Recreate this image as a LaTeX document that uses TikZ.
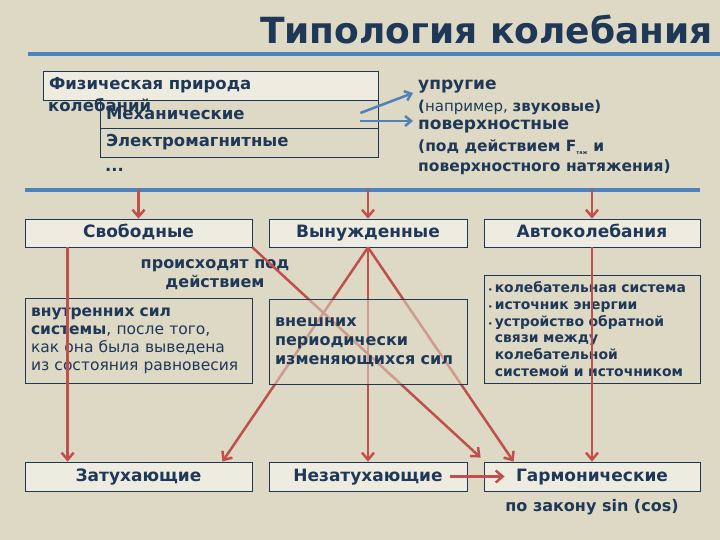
\documentclass[tikz,border=0pt]{standalone}
\usepackage{fontspec}
\setmainfont{DejaVu Sans}
\usetikzlibrary{arrows.meta,positioning}

\definecolor{bgbeige}{RGB}{221,217,196}
\definecolor{boxfill}{RGB}{238,236,225}
\definecolor{navy}{RGB}{31,56,88}
\definecolor{redline}{RGB}{192,80,77}
\definecolor{blueline}{RGB}{79,129,189}

\begin{document}
\begin{tikzpicture}[x=1pt,y=-1pt,
  every node/.style={text=navy,font=\bfseries},
  box/.style={draw=navy,fill=boxfill,line width=0.8pt,inner sep=0pt,
    text height=12.5pt,text depth=3.5pt,
    font=\fontsize{17}{20}\selectfont\bfseries},
  plainbox/.style={draw=navy,line width=0.8pt,inner sep=6pt},
  txt/.style={inner sep=0pt,anchor=west},
  redarrow/.style={draw=redline,line width=2.5pt,
    -{Straight Barb[length=7pt,width=12pt]}},
  bluearrow/.style={draw=blueline,line width=2.5pt,
    -{Straight Barb[length=6pt,width=10pt]}}]

% Background
\fill[bgbeige] (0,0) rectangle (720,540);
\useasboundingbox (0,0) rectangle (720,540);

% Title
\node[anchor=east,inner sep=0pt,font=\fontsize{36}{40}\selectfont\bfseries] (title) at (713,29) {Типология колебания};
\draw[blueline,line width=4pt] (28,54) -- (720,54);

% Physical nature
\node[plainbox,minimum width=278pt,minimum height=28pt,text width=266pt,align=left,
  font=\fontsize{16.5}{18}\selectfont\bfseries] (mech) at (239,114) {Механические};
\node[plainbox,minimum width=278pt,minimum height=29pt,text width=266pt,align=left,
  font=\fontsize{16.5}{18}\selectfont\bfseries] (emag) at (239,142.5) {Электромагнитные};
\node[plainbox,fill=boxfill,minimum width=335pt,minimum height=29pt,text width=323pt,align=left,
  font=\fontsize{16.5}{18}\selectfont\bfseries] (phys) at (210.5,85.5) {Физическая природа};
\node[txt,font=\fontsize{16.5}{18}\selectfont\bfseries] (physrest) at (48,105) {колебаний};
\node[txt,font=\fontsize{16.5}{18}\selectfont\bfseries] (dots) at (105,170) {...};

% Mechanical kinds
\node[txt,font=\fontsize{17}{20}\selectfont\bfseries] (elastic) at (418,87) {упругие};
\node[txt,font=\fontsize{15}{18}\selectfont] (elasticnote) at (418,107) {\textbf{(}например, \textbf{звуковые)}};
\node[txt,font=\fontsize{17}{20}\selectfont\bfseries] (surface) at (418,127) {поверхностные};
\node[txt,font=\fontsize{15.5}{18}\selectfont\bfseries] (surfacenote) at (418,147) {(под действием F\textsubscript{\tiny тяж} и};
\node[txt,font=\fontsize{15.5}{18}\selectfont\bfseries] (surfacenote2) at (418,167) {поверхностного натяжения)};

\draw[bluearrow] ([xshift=-18pt,yshift=1pt]mech.east) -- ([xshift=-5pt,yshift=-6pt]elastic.west);
\draw[bluearrow] ([xshift=-18pt,yshift=-7pt]mech.east) -- ([xshift=-5pt,yshift=6pt]surface.west);

\draw[blueline,line width=3.5pt] (25,190) -- (700,190);
\coordinate (hl) at (25,190);

% Kinds of oscillation
\node[box,minimum width=227pt,minimum height=28pt] (free) at (138.5,233) {Свободные};
\node[box,minimum width=198pt,minimum height=28pt] (forced) at (368,233) {Вынужденные};
\node[box,minimum width=216pt,minimum height=28pt] (auto) at (592,233) {Автоколебания};

\draw[redarrow] (free.north |- hl) -- (free.north);
\draw[redarrow] (forced.north |- hl) -- (forced.north);
\draw[redarrow] (auto.north |- hl) -- (auto.north);

\node[font=\fontsize{16}{19}\selectfont\bfseries,align=center] (cause) at (215,275) {происходят под\\действием};

\node[plainbox,minimum width=227pt,minimum height=85pt,text width=215pt,align=left,
  font=\fontsize{15.5}{18}\selectfont] (internal) at (138.5,340.5)
  {\textbf{внутренних сил}\\\textbf{системы}, после того,\\как она была выведена\\из состояния равновесия};

\node[plainbox,inner sep=4pt,minimum width=216pt,minimum height=108pt,text width=208pt,align=left,
  font=\fontsize{13.9}{16.8}\selectfont\bfseries] (feedback) at (592,329)
  {{\scriptsize•}\,колебательная система\\{\scriptsize•}\,источник энергии\\{\scriptsize•}\,устройство обратной\\\phantom{\scriptsize•}\,связи между\\\phantom{\scriptsize•}\,колебательной\\\phantom{\scriptsize•}\,системой и источником};

% Bottom row
\node[box,minimum width=227pt,minimum height=29pt] (damped) at (138.5,476.5) {Затухающие};
\node[box,minimum width=198pt,minimum height=29pt] (undamped) at (368,476.5) {Незатухающие};
\node[box,minimum width=216pt,minimum height=29pt] (harm) at (592,476.5) {Гармонические};
\node[font=\fontsize{16}{18}\selectfont\bfseries] (law) at (592,507) {по закону sin (cos)};

% Connectors
\draw[redarrow] ([xshift=43pt]free.south west) -- ([xshift=43pt]damped.north west);
\draw[redarrow] (free.south east) -- ([xshift=-3pt,yshift=4pt]harm.north west);
\draw[redarrow] (forced.south) -- ([xshift=-30pt]damped.north east);
\draw[redarrow] (forced.south) -- (undamped.north);
\draw[redarrow] (forced.south) -- ([xshift=30pt]harm.north west);
\draw[redarrow] (auto.south) -- (harm.north);
\draw[redarrow] ([xshift=-17pt]undamped.east) -- ([xshift=21pt]harm.west);

% External forces box over the lines
\node[plainbox,fill=bgbeige,fill opacity=0.55,text opacity=1,minimum width=198pt,minimum height=85pt,
  text width=186pt,align=left,font=\fontsize{16}{19}\selectfont\bfseries] (external) at (368,342)
  {внешних\\периодически\\изменяющихся сил};

\end{tikzpicture}
\end{document}
